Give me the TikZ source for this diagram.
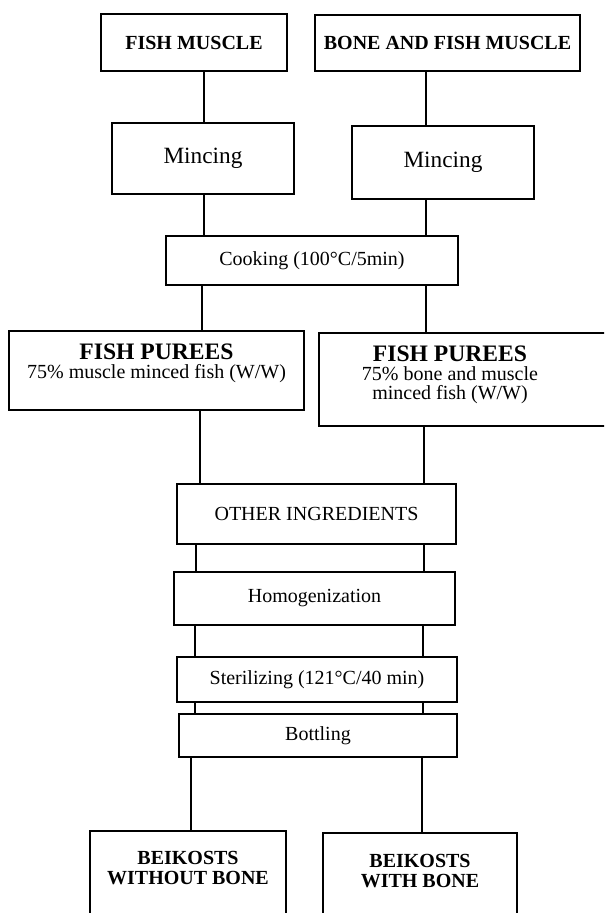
\documentclass[tikz,border=0pt]{standalone}
\usepackage{fontspec}
\setmainfont{Liberation Serif}
\usetikzlibrary{positioning}

\begin{document}
\begin{tikzpicture}[x=0.5pt,y=-0.5pt,line width=1pt]
  \tikzstyle{box}=[draw,line width=1pt,inner sep=0pt,align=center]
  \tikzstyle{boxtext}=[inner sep=0pt,align=center,anchor=north]
  \useasboundingbox (0,0) rectangle (604,913);
  \clip (0,0) rectangle (604,913);
  % raw material
  \node[box,minimum width=93pt,minimum height=28.5pt,font=\bfseries] (fm) at (194,42.5) {FISH MUSCLE};
  \node[box,minimum width=132.5pt,minimum height=28pt,font=\bfseries] (bfm) at (447.5,43) {BONE AND FISH MUSCLE};
  \node[box,minimum width=91pt,minimum height=35.5pt,font=\fontsize{11.65}{14}\selectfont] (minL) at (203,158.5) {Mincing};
  \node[box,minimum width=91pt,minimum height=36.5pt,font=\fontsize{11.65}{14}\selectfont] (minR) at (443,162.5) {Mincing};
  \node[box,minimum width=146pt,minimum height=24.5pt] (cook) at (312,260.5) {Cooking (100°C/5min)};
  % purees
  \node[box,anchor=north,minimum width=147.5pt,minimum height=39.5pt] (pureeL) at (156.5,330) {};
  \node[boxtext,below=6.5pt of pureeL.north,font=\fontsize{10}{9.5}\selectfont] (pureeLtext)
    {{\fontsize{11.8}{9.5}\selectfont\bfseries FISH PUREES}\\75\% muscle minced fish (W/W)};
  \node[box,anchor=north,minimum width=150.5pt,minimum height=46.5pt] (pureeR) at (469.5,332) {};
  \node[boxtext,below=6.5pt of pureeR.north,xshift=-9.75pt,font=\fontsize{10}{9.5}\selectfont] (pureeRtext)
    {{\fontsize{11.8}{9.5}\selectfont\bfseries FISH PUREES}\\75\% bone and muscle\\minced fish (W/W)};
  % processing
  \node[box,minimum width=139.5pt,minimum height=30pt] (other) at (316.5,514) {OTHER INGREDIENTS};
  \node[box,minimum width=140.5pt,minimum height=26.5pt] (homog) at (314.5,598.5) {Homogenization};
  \node[box,minimum width=140pt,minimum height=22.5pt] (steril) at (317,679.5) {Sterilizing (121°C/40 min)};
  \node[box,minimum width=139pt,minimum height=21.5pt] (bottl) at (318,735.5) {Bottling};
  % products
  \node[box,anchor=north,minimum width=98pt,minimum height=65pt] (bkL) at (188,830) {};
  \node[boxtext,below=10pt of bkL.north,font=\fontsize{10}{10.25}\selectfont\bfseries] (bkLtext) {BEIKOSTS\\WITHOUT BONE};
  \node[box,anchor=north,minimum width=97pt,minimum height=65pt] (bkR) at (420,832) {};
  \node[boxtext,below=10.5pt of bkR.north,font=\fontsize{10}{10.25}\selectfont\bfseries] (bkRtext) {BEIKOSTS\\WITH BONE};
  % left line
  \draw (fm.south -| 204,0) -- (minL.north -| 204,0);
  \draw (minL.south -| 204,0) -- (cook.north -| 204,0);
  \draw (cook.south -| 202,0) -- (pureeL.north -| 202,0);
  \draw (pureeL.south -| 200,0) -- (other.north -| 200,0);
  \draw (other.south -| 196,0) -- (homog.north -| 196,0);
  \draw (homog.south -| 195,0) -- (steril.north -| 195,0);
  \draw (steril.south -| 195,0) -- (bottl.north -| 195,0);
  \draw (bottl.south -| 191,0) -- (bkL.north -| 191,0);
  % right line
  \draw (bfm.south -| 426,0) -- (minR.north -| 426,0);
  \draw (minR.south -| 426,0) -- (cook.north -| 426,0);
  \draw (cook.south -| 426,0) -- (pureeR.north -| 426,0);
  \draw (pureeR.south -| 424,0) -- (other.north -| 424,0);
  \draw (other.south -| 424,0) -- (homog.north -| 424,0);
  \draw (homog.south -| 423,0) -- (steril.north -| 423,0);
  \draw (steril.south -| 423,0) -- (bottl.north -| 423,0);
  \draw (bottl.south -| 422,0) -- (bkR.north -| 422,0);
\end{tikzpicture}
\end{document}
